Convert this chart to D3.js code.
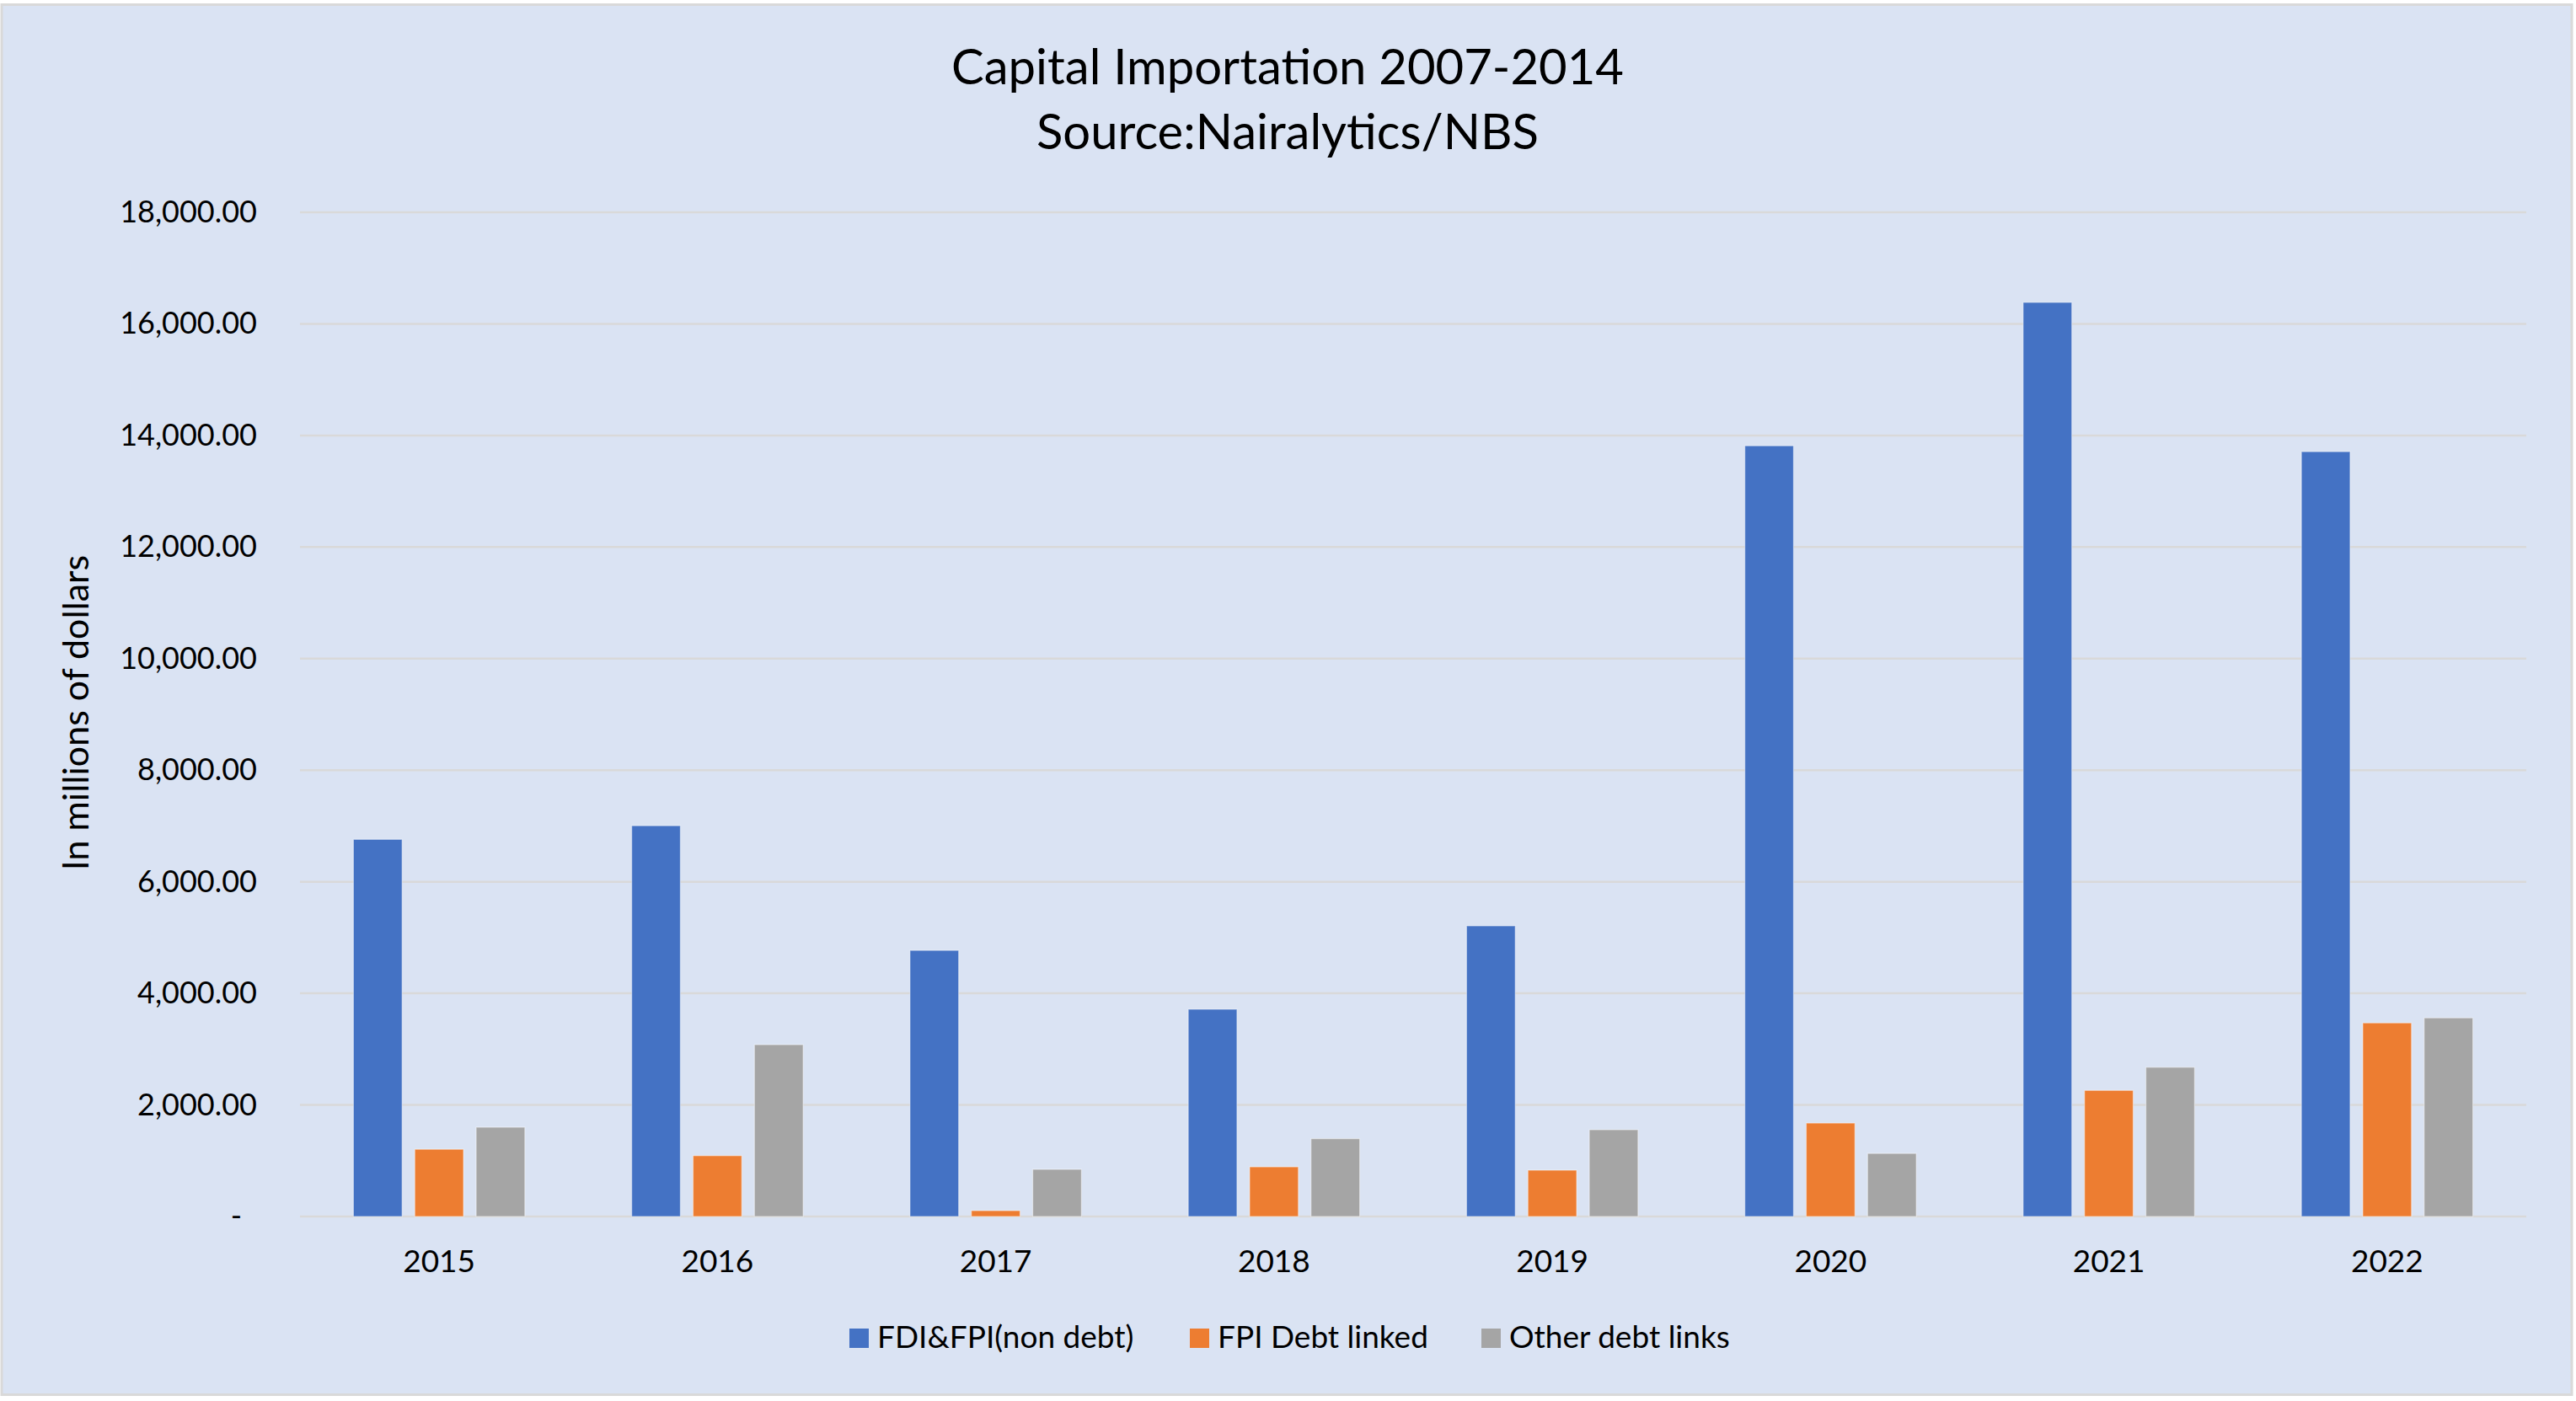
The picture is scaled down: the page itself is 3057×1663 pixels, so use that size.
<!DOCTYPE html>
<html>
<head>
<meta charset="utf-8">
<script src="https://cdn.jsdelivr.net/npm/d3@7"></script>
<style>
  body { margin: 0; background: #fff; }
  text { font-family: Lato, "Open Sans", sans-serif; fill: #000; }
</style>
</head>
<body>
<svg id="chart" width="3057" height="1663"></svg>
<script>
var years = ['2015', '2016', '2017', '2018', '2019', '2020', '2021', '2022'];
var seriesNames = ['FDI&FPI(non debt)', 'FPI Debt linked', 'Other debt links'];
var fdiNonDebt = [6760, 7005, 4770, 3715, 5210, 13815, 16385, 13710];
var fpiDebtLinked = [1205, 1090, 105, 890, 830, 1675, 2260, 3470];
var otherDebtLinks = [1600, 3080, 845, 1395, 1555, 1130, 2675, 3560];
var yTicks = [0, 2000, 4000, 6000, 8000, 10000, 12000, 14000, 16000, 18000];
var seriesColors = ['#4472C4', '#ED7D31', '#A5A5A5'];

var titleLines = ['Capital Importation 2007-2014', 'Source:Nairalytics/NBS'];
var yTitle = 'In millions of dollars';

var svg = d3.select('#chart');

// chart area
svg.append('rect')
  .attr('x', 2)
  .attr('y', 5.5)
  .attr('width', 3050)
  .attr('height', 1650)
  .attr('fill', '#DAE3F3')
  .attr('stroke', '#D9D9D9')
  .attr('stroke-width', 3);

var plot = { left: 356, right: 2998, top: 252, bottom: 1444 };

var x0 = d3.scaleBand()
  .domain(years)
  .range([plot.left, plot.right])
  .paddingInner(0.384)
  .paddingOuter(0.192);

var x1 = d3.scaleBand()
  .domain(d3.range(seriesNames.length))
  .range([0, x0.bandwidth()])
  .paddingInner(0.207)
  .paddingOuter(0);

var y = d3.scaleLinear()
  .domain([0, 18000])
  .range([plot.bottom, plot.top]);

// gridlines
svg.append('g')
  .selectAll('line')
  .data(yTicks)
  .enter()
  .append('line')
  .attr('x1', plot.left)
  .attr('x2', plot.right)
  .attr('y1', function(d) { return y(d); })
  .attr('y2', function(d) { return y(d); })
  .attr('stroke', '#D9D9D9')
  .attr('stroke-width', 2.5);

// y axis labels
var yAxis = d3.axisLeft(y)
  .tickValues(yTicks)
  .tickSize(0)
  .tickPadding(51)
  .tickFormat(function(d) { return d == 0 ? '-' : d3.format(',.2f')(d); });

var yg = svg.append('g')
  .attr('transform', 'translate(' + plot.left + ',0)')
  .call(yAxis);
yg.select('.domain').remove();
yg.selectAll('text')
  .attr('font-size', 36)
  .attr('font-family', 'Lato, "Open Sans", sans-serif')
  .attr('fill', '#000')
  .attr('dx', function(d) { return d == 0 ? -18 : 0; });

// x axis labels
var xAxis = d3.axisBottom(x0)
  .tickSize(0)
  .tickPadding(40);

var xg = svg.append('g')
  .attr('transform', 'translate(0,' + plot.bottom + ')')
  .call(xAxis);
xg.select('.domain').remove();
xg.selectAll('text')
  .attr('font-size', 37)
  .attr('font-family', 'Lato, "Open Sans", sans-serif')
  .attr('fill', '#000');

// bars
var rows = years.map(function(yr, i) {
  return { year: yr, values: [fdiNonDebt[i], fpiDebtLinked[i], otherDebtLinks[i]] };
});

var groups = svg.append('g')
  .selectAll('g')
  .data(rows)
  .enter()
  .append('g')
  .attr('transform', function(d) { return 'translate(' + x0(d.year) + ',0)'; });

groups.selectAll('rect')
  .data(function(d) { return d.values; })
  .enter()
  .append('rect')
  .attr('x', function(d, i) { return x1(i); })
  .attr('y', function(d) { return y(d); })
  .attr('width', x1.bandwidth())
  .attr('height', function(d) { return y(0) - y(d); })
  .attr('fill', function(d, i) { return seriesColors[i]; })
  .attr('stroke', '#fff')
  .attr('stroke-opacity', 0.45)
  .attr('stroke-width', 1.2);

// title
svg.append('g')
  .selectAll('text')
  .data(titleLines)
  .enter()
  .append('text')
  .attr('x', 1528)
  .attr('y', function(d, i) { return i == 0 ? 100 : 177; })
  .attr('text-anchor', 'middle')
  .attr('font-size', 58)
  .text(function(d) { return d; });

// y title
svg.append('text')
  .attr('transform', 'translate(105,846) rotate(-90)')
  .attr('text-anchor', 'middle')
  .attr('font-size', 43)
  .text(yTitle);

// legend
var legendX = [1008, 1412, 1758];
var legend = svg.append('g')
  .selectAll('g')
  .data(seriesNames)
  .enter()
  .append('g')
  .attr('transform', function(d, i) { return 'translate(' + legendX[i] + ',1577)'; });

legend.append('rect')
  .attr('width', 23)
  .attr('height', 23)
  .attr('fill', function(d, i) { return seriesColors[i]; });

legend.append('text')
  .attr('x', 33)
  .attr('y', 23)
  .attr('font-size', 37)
  .text(function(d) { return d; });
</script>
</body>
</html>
